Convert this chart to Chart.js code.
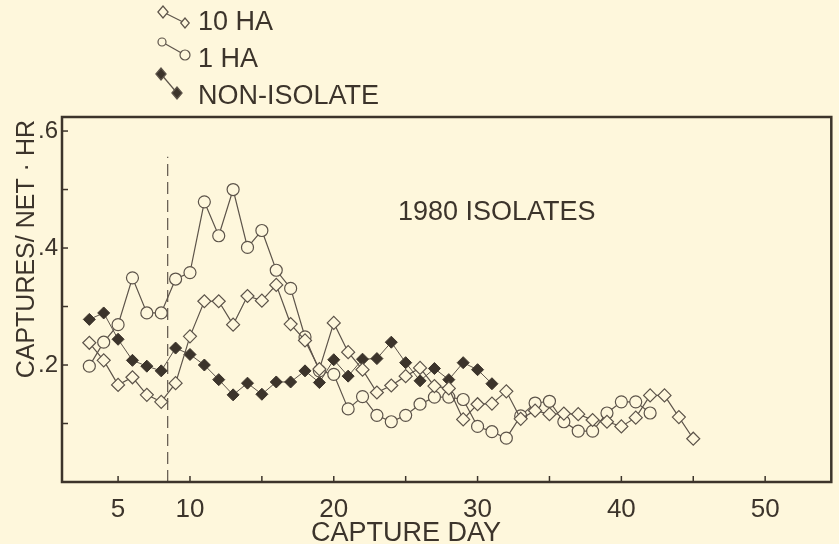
<!DOCTYPE html>
<html>
<head>
<meta charset="utf-8">
<script src="https://cdn.jsdelivr.net/npm/chart.js"></script>
<style>
  body { margin: 0; background: #fef7dc; }
  canvas { display: block; }
</style>
</head>
<body>
<canvas id="grafico" width="839" height="544"></canvas>
<script>
// valores (dia de captura x capturas/rede.hora)
var dias10ha = [3,4,5,6,7,8,9,10,11,12,13,14,15,16,17,18,19,20,21,22,23,24,25,26,27,28,29,30,31,32,33,34,35,36,37,38,39,40,41,42,43,44,45];
var capturas10ha = [.238,.208,.166,.179,.149,.137,.169,.249,.309,.309,.269,.318,.310,.337,.270,.242,.193,.272,.222,.192,.153,.165,.181,.195,.164,.160,.107,.133,.134,.155,.108,.122,.116,.117,.116,.106,.103,.095,.110,.148,.148,.111,.074];

var dias1ha = [3,4,5,6,7,8,9,10,11,12,13,14,15,16,17,18,19,20,21,22,23,24,25,26,27,28,29,30,31,32,33,34,35,36,37,38,39,40,41,42];
var capturas1ha = [.198,.239,.269,.349,.289,.289,.347,.358,.479,.421,.500,.401,.430,.362,.331,.248,.190,.184,.125,.146,.114,.103,.114,.133,.145,.145,.141,.095,.086,.075,.113,.135,.138,.103,.087,.087,.118,.137,.137,.118];

var diasNaoIsolado = [3,4,5,6,7,8,9,10,11,12,13,14,15,16,17,18,19,20,21,22,23,24,25,26,27,28,29,30,31];
var capturasNaoIsolado = [.278,.289,.244,.208,.198,.190,.229,.218,.200,.175,.149,.169,.150,.171,.171,.190,.170,.209,.181,.210,.211,.239,.204,.173,.194,.175,.204,.192,.168];

// linha tracejada vertical
var diaTracejado = 8.45;
var topoTracejado = 0.556;

// ticks dos eixos
var xTicks = [5,10,15,20,25,30,35,40,45,50];
var xTextos = ['5','10','','20','','30','','40','','50'];
var yTicks = [0.1,0.2,0.3,0.4,0.5,0.6];
var yTextos = ['','.2','','.4','','.6'];

var legendaNomes = ['10 HA', '1 HA', 'NON-ISOLATE'];

var corFundo = '#fef7dc';
var corTraco = '#3c342b';
var corLinha = '#5d544a';
var fonte = "'Liberation Sans', Arial, sans-serif";

function pontos(dias, valores) {
    var lista = [];
    for (var i = 0; i < dias.length; i++) {
        lista.push({x: dias[i], y: valores[i]});
    }
    return lista;
}

function desenhaLosango(ctx, x, y, r, cheio) {
    ctx.beginPath();
    ctx.moveTo(x - r * 0.85, y);
    ctx.lineTo(x, y - r);
    ctx.lineTo(x + r * 0.85, y);
    ctx.lineTo(x, y + r);
    ctx.closePath();
    ctx.fillStyle = cheio ? corTraco : corFundo;
    ctx.fill();
    ctx.stroke();
}

function desenhaCirculo(ctx, x, y, r) {
    ctx.beginPath();
    ctx.arc(x, y, r, 0, Math.PI * 2);
    ctx.fillStyle = corFundo;
    ctx.fill();
    ctx.stroke();
}

var molduraPlugin = {
    id: 'moldura',
    beforeDraw: function(chart) {
        var ctx = chart.ctx;
        ctx.save();
        ctx.fillStyle = corFundo;
        ctx.fillRect(0, 0, chart.width, chart.height);
        ctx.restore();
    },
    afterDraw: function(chart) {
        var ctx = chart.ctx;
        var a = chart.chartArea;
        ctx.save();
        // caixa do grafico
        ctx.strokeStyle = corTraco;
        ctx.lineWidth = 2.5;
        ctx.strokeRect(a.left, a.top, a.right - a.left, a.bottom - a.top);
        // ticks para dentro
        ctx.lineWidth = 1.5;
        xTicks.forEach(function(v) {
            var px = chart.scales.x.getPixelForValue(v);
            ctx.beginPath();
            ctx.moveTo(px, a.bottom);
            ctx.lineTo(px, a.bottom - 6);
            ctx.stroke();
        });
        yTicks.forEach(function(v) {
            var py = chart.scales.y.getPixelForValue(v);
            ctx.beginPath();
            ctx.moveTo(a.left, py);
            ctx.lineTo(a.left + 6, py);
            ctx.stroke();
        });

        // textos
        ctx.fillStyle = corTraco;
        ctx.font = '27px ' + fonte;
        ctx.textAlign = 'left';
        ctx.textBaseline = 'alphabetic';
        ctx.fillText('1980 ISOLATES', 398, 220);

        ctx.textAlign = 'center';
        ctx.fillText('CAPTURE DAY', 406, 541);

        ctx.save();
        ctx.translate(34, 120);
        ctx.rotate(-Math.PI / 2);
        ctx.textAlign = 'right';
        ctx.font = '25px ' + fonte;
        ctx.fillText('CAPTURES/ NET \u00b7 HR', 0, 0);
        ctx.restore();

        // legenda
        ctx.font = '27px ' + fonte;
        ctx.textAlign = 'left';
        var base = [30, 67, 104];
        for (var i = 0; i < legendaNomes.length; i++) {
            ctx.fillStyle = corTraco;
            ctx.fillText(legendaNomes[i], 198, base[i]);
        }
        ctx.strokeStyle = corLinha;
        ctx.lineWidth = 1.2;
        // 10 HA
        ctx.beginPath(); ctx.moveTo(163, 12); ctx.lineTo(185, 23); ctx.stroke();
        desenhaLosango(ctx, 163, 12, 6, false);
        desenhaLosango(ctx, 185, 23, 5, false);
        // 1 HA
        ctx.beginPath(); ctx.moveTo(162, 42); ctx.lineTo(185, 55); ctx.stroke();
        desenhaCirculo(ctx, 162, 42, 4);
        desenhaCirculo(ctx, 185, 55, 5);
        // nao isolado
        ctx.beginPath(); ctx.moveTo(161, 74); ctx.lineTo(177, 93); ctx.stroke();
        desenhaLosango(ctx, 161, 74, 6, true);
        desenhaLosango(ctx, 177, 93, 6, true);
        ctx.restore();
    }
};

var ctx = document.getElementById('grafico');

var data = {
    datasets: [{
        label: '10 HA',
        data: pontos(dias10ha, capturas10ha),
        borderColor: corLinha,
        borderWidth: 1.2,
        pointStyle: 'rectRot',
        pointRadius: 6.5,
        pointBorderWidth: 1.2,
        pointBorderColor: corLinha,
        pointBackgroundColor: corFundo,
        tension: 0
    }, {
        label: '1 HA',
        data: pontos(dias1ha, capturas1ha),
        borderColor: corLinha,
        borderWidth: 1.2,
        pointStyle: 'circle',
        pointRadius: 6,
        pointBorderWidth: 1.2,
        pointBorderColor: corLinha,
        pointBackgroundColor: corFundo,
        tension: 0
    }, {
        label: 'NON-ISOLATE',
        data: pontos(diasNaoIsolado, capturasNaoIsolado),
        borderColor: corLinha,
        borderWidth: 1,
        pointStyle: 'rectRot',
        pointRadius: 6,
        pointBorderWidth: 1,
        pointBorderColor: corTraco,
        pointBackgroundColor: corTraco,
        tension: 0
    }, {
        label: 'tracejado',
        data: [{x: diaTracejado, y: 0}, {x: diaTracejado, y: topoTracejado}],
        borderColor: corLinha,
        borderWidth: 1.2,
        borderDash: [12, 6],
        pointRadius: 0
    }]
};

var config = {
    type: 'line',
    data: data,
    options: {
        responsive: false,
        devicePixelRatio: 1,
        animation: false,
        layout: { padding: { top: 117, right: 3, left: 0, bottom: 0 } },
        plugins: {
            legend: { display: false },
            tooltip: { enabled: false }
        },
        scales: {
            x: {
                type: 'linear',
                min: 1.1,
                max: 54.6,
                grid: { display: false, drawTicks: false },
                border: { display: false },
                afterBuildTicks: function(scale) {
                    scale.ticks = xTicks.map(function(v) { return {value: v}; });
                },
                afterFit: function(scale) { scale.height = 62; },
                ticks: {
                    autoSkip: false,
                    maxRotation: 0,
                    padding: 12,
                    color: corTraco,
                    font: { family: fonte, size: 26 },
                    callback: function(v, i) { return xTextos[i]; }
                }
            },
            y: {
                min: 0,
                max: 0.624,
                grid: { display: false, drawTicks: false },
                border: { display: false },
                afterBuildTicks: function(scale) {
                    scale.ticks = yTicks.map(function(v) { return {value: v}; });
                },
                afterFit: function(scale) { scale.width = 62; },
                ticks: {
                    autoSkip: false,
                    padding: 4,
                    color: corTraco,
                    font: { family: fonte, size: 24 },
                    callback: function(v, i) { return yTextos[i]; }
                }
            }
        }
    },
    plugins: [molduraPlugin]
};

var grafico = new Chart(ctx, config);
</script>
</body>
</html>
